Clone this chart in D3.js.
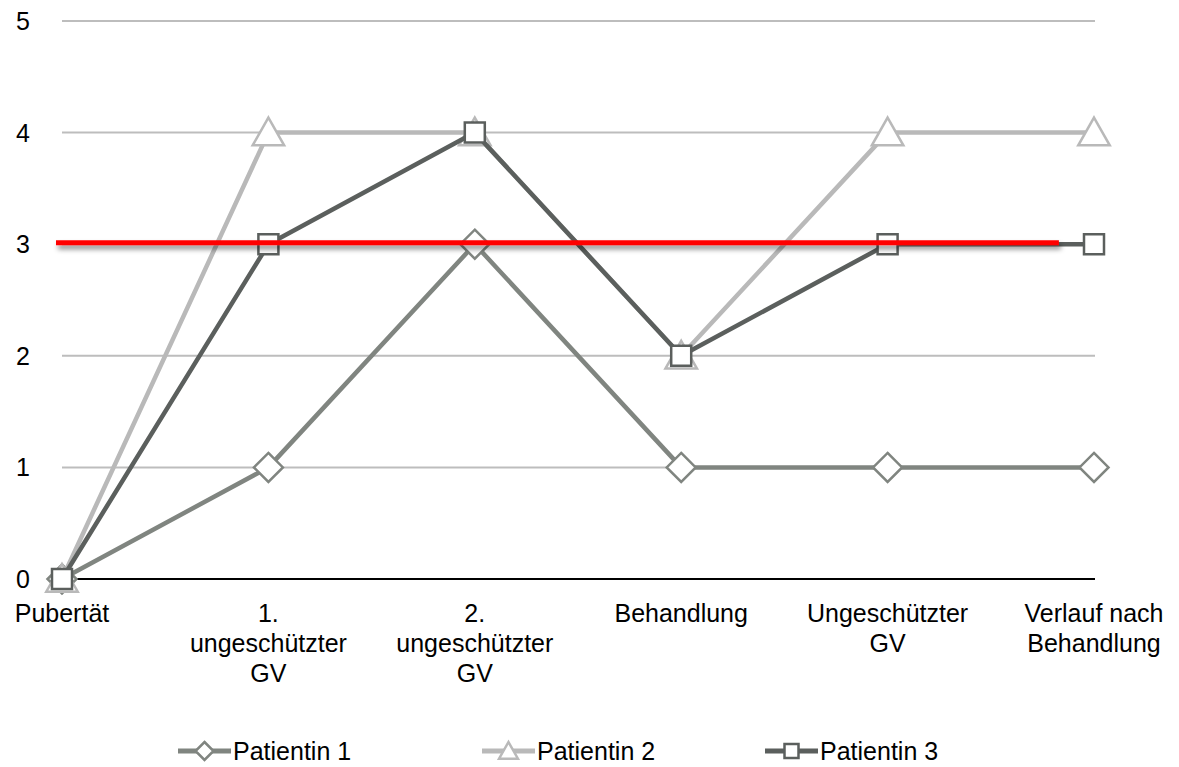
<!DOCTYPE html>
<html><head><meta charset="utf-8">
<script src="https://cdn.jsdelivr.net/npm/d3@7"></script>
<style>body{margin:0;background:#fff}svg{display:block}text{font-family:"Liberation Sans",Arial,Helvetica,sans-serif;fill:#000}</style>
</head><body>
<svg id="c" width="1179" height="767"></svg>
<script>
const categories = [["Pubertät"],["1.","ungeschützter","GV"],["2.","ungeschützter","GV"],["Behandlung"],["Ungeschützter","GV"],["Verlauf nach","Behandlung"]];
const yTicks = [0,1,2,3,4,5];
const seriesNames = ["Patientin 1","Patientin 2","Patientin 3"];
const patientin1 = [0,1,3,1,1,1];
const patientin2 = [0,4,4,2,4,4];
const patientin3 = [0,3,4,2,3,3];
const threshold = 3;

const series = [
  {name: seriesNames[0], values: patientin1, color: "#808580", marker: "diamond"},
  {name: seriesNames[1], values: patientin2, color: "#b9b9b9", marker: "triangle"},
  {name: seriesNames[2], values: patientin3, color: "#5b5f5d", marker: "square"}
];

const svg = d3.select("#c");
const idx = categories.map((d,i)=>i);
const x = d3.scalePoint().domain(idx).range([62, 1094]).padding(0);
const y = d3.scaleLinear().domain([0,5]).range([579, 21]);

const defs = svg.append("defs");
const f = defs.append("filter").attr("id","sh").attr("filterUnits","userSpaceOnUse")
  .attr("x",0).attr("y",0).attr("width",1179).attr("height",767);
f.append("feDropShadow").attr("dx",2).attr("dy",4).attr("stdDeviation",2.5).attr("flood-color","#000").attr("flood-opacity",0.45);

// gridlines
svg.append("g").selectAll("line").data(yTicks.filter(t=>t>0)).join("line")
  .attr("x1", x(0)).attr("x2", x(5)+1).attr("y1", d=>y(d)).attr("y2", d=>y(d))
  .attr("stroke","#bdbdbd").attr("stroke-width",2);
// axis line
svg.append("line").attr("x1",x(0)).attr("x2",x(5)+1).attr("y1",y(0)).attr("y2",y(0))
  .attr("stroke","#000").attr("stroke-width",2);

// y labels
svg.append("g").selectAll("text").data(yTicks).join("text")
  .attr("x", 30).attr("y", d=>y(d)+9).attr("text-anchor","end")
  .style("font-size","25px").text(d=>d);

// x labels
const xl = svg.append("g").selectAll("text").data(idx).join("text")
  .attr("text-anchor","middle").style("font-size","25px");
xl.each(function(i){
  const t = d3.select(this);
  categories[i].forEach((ln,k)=>{
    t.append("tspan").attr("x", x(i)).attr("y", 622 + k*30).text(ln);
  });
});

function markerPath(type, s){
  if(type==="diamond") return `M0,${-s}L${s},0L0,${s}L${-s},0Z`;
  if(type==="triangle") return `M0,${-s}L${s*1.05},${s*0.85}L${-s*1.05},${s*0.85}Z`;
  return `M${-s},${-s}H${s}V${s}H${-s}Z`;
}
const msize = {diamond:14.5, triangle:15, square:10};

const line = d3.line().x((d,i)=>x(i)).y(d=>y(d));
series.forEach(s=>{
  const g = svg.append("g");
  g.append("path").attr("d", line(s.values)).attr("fill","none")
    .attr("stroke", s.color).attr("stroke-width",4.5).attr("stroke-linejoin","round");
  g.selectAll("path.m").data(s.values).join("path").attr("class","m")
    .attr("transform",(d,i)=>`translate(${x(i)},${y(d)})`)
    .attr("d", markerPath(s.marker, msize[s.marker]))
    .attr("fill","#fff").attr("stroke", s.color).attr("stroke-width",2.5);
});

// threshold red line
const step = x.step();
svg.append("line").attr("x1", x(0)-6).attr("x2", x(4)+step*0.83)
  .attr("y1", y(threshold)-1.5).attr("y2", y(threshold)-1.5)
  .attr("stroke","#ff0000").attr("stroke-width",5).attr("filter","url(#sh)");

// legend
const legX = [178, 482, 765];
const lg = svg.append("g").selectAll("g").data(series).join("g")
  .attr("transform",(d,i)=>`translate(${legX[i]},751)`);
lg.append("line").attr("x1",0).attr("x2",53).attr("y1",0).attr("y2",0)
  .attr("stroke",d=>d.color).attr("stroke-width",5);
lg.append("path").attr("transform","translate(26.5,0)")
  .attr("d",d=>markerPath(d.marker, d.marker==="square"?7:9))
  .attr("fill","#fff").attr("stroke",d=>d.color).attr("stroke-width",2.5);
lg.append("text").attr("x",55).attr("y",9).style("font-size","25px").text(d=>d.name);
</script>
</body></html>
